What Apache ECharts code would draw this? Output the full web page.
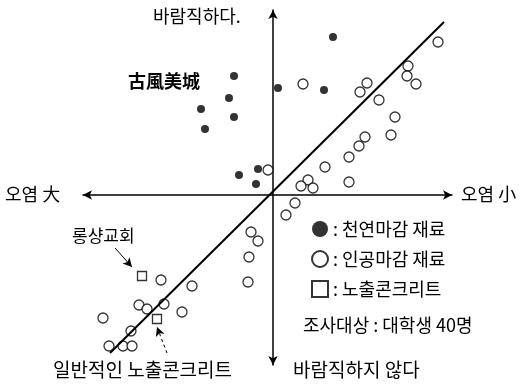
<!DOCTYPE html>
<html>
<head>
<meta charset="utf-8">
<script src="https://cdn.jsdelivr.net/npm/echarts@6/dist/echarts.min.js"></script>
<style>
  html, body { margin: 0; padding: 0; background: #fff; }
  #chart { width: 523px; height: 384px; }
</style>
</head>
<body>
<div id="chart"></div>
<script>
// 천연마감 재료 (filled)
var naturalPts = [
  [-39, 119], [-44, 97], [-72, 86], [-39, 78], [-68, 66],
  [-34, 20], [-15, 26], [-17, 11], [60, 158], [5, 107], [51, 105]
];
// 인공마감 재료 (open)
var artificialPts = [
  [165, 153], [135, 129], [134, 119], [143, 111], [30, 111], [94, 112],
  [87, 103], [106, 95], [122, 78], [118, 60], [92, 58], [86, 49],
  [76, 38], [52, 28], [35, 15], [28, 9], [40, 7], [76, 13], [-5, 25],
  [22, -8], [13, -20], [-22, -37], [-15, -46], [-24, -62], [-25, -87],
  [-112, -85], [-81, -91], [-134, -110], [-126, -114], [-109, -109],
  [-91, -117], [-170, -123], [-142, -136], [-164, -151], [-150, -151], [-141, -151]
];
// 노출콘크리트 (square)
var concretePts = [[-131, -81], [-116, -124]];
// 추세선
var trendLine = [[-163, -158], [171, 173]];
// 주석 화살표
var arrowChurch = [[-158, -53], [-141, -72]];
var arrowNormal = [[-106, -158], [-116, -132]];

var seriesNames = ['천연마감 재료', '인공마감 재료', '노출콘크리트'];
var KR = '"Noto Sans CJK KR", sans-serif';

var chart = echarts.init(document.getElementById('chart'));

var option = {
  animation: false,
  grid: { left: 83, right: 71, top: 10, bottom: 19 },
  xAxis: {
    type: 'value', min: -190, max: 179,
    axisLine: { onZero: true, symbol: ['arrow', 'arrow'], symbolSize: [7, 9], lineStyle: { color: '#000', width: 1.5 } },
    axisTick: { show: false }, axisLabel: { show: false }, splitLine: { show: false }
  },
  yAxis: {
    type: 'value', min: -170, max: 185,
    axisLine: { onZero: true, symbol: ['arrow', 'arrow'], symbolSize: [7, 9], lineStyle: { color: '#000', width: 1.5 } },
    axisTick: { show: false }, axisLabel: { show: false }, splitLine: { show: false }
  },
  legend: {
    orient: 'vertical',
    left: 306, top: 215,
    itemWidth: 16, itemHeight: 16, itemGap: 12,
    data: seriesNames,
    formatter: ': {name}',
    textStyle: { fontFamily: KR, fontSize: 18, color: '#000' }
  },
  series: [
    {
      type: 'line', data: trendLine, symbol: 'none', silent: true,
      lineStyle: { color: '#000', width: 2 },
      markLine: {
        silent: true,
        symbolSize: [7, 9],
        label: { show: false },
        data: [
          [{ coord: arrowChurch[0], symbol: 'none' }, { coord: arrowChurch[1], symbol: 'arrow' }],
          [{ coord: arrowNormal[0], symbol: 'none', lineStyle: { type: [3, 3] } }, { coord: arrowNormal[1], symbol: 'arrow' }]
        ],
        lineStyle: { color: '#000', width: 1, type: 'solid' }
      }
    },
    {
      name: seriesNames[0], type: 'scatter', data: naturalPts,
      symbol: 'circle', symbolSize: 8,
      itemStyle: { color: '#000' }
    },
    {
      name: seriesNames[1], type: 'scatter', data: artificialPts,
      symbol: 'circle', symbolSize: 10,
      itemStyle: { color: '#fff', borderColor: '#000', borderWidth: 1.3 }
    },
    {
      name: seriesNames[2], type: 'scatter', data: concretePts,
      symbol: 'rect', symbolSize: 9,
      itemStyle: { color: '#fff', borderColor: '#000', borderWidth: 1.3 }
    }
  ],
  graphic: [
    { type: 'text', left: 153, top: 7, style: { text: '바람직하다.', font: '18px ' + KR, fill: '#000' } },
    { type: 'text', left: 128, top: 72, style: { text: '古風美城', font: 'bold 18px ' + KR, fill: '#000' } },
    { type: 'text', left: 5, top: 185, style: { text: '오염 大', font: '18px ' + KR, fill: '#000' } },
    { type: 'text', left: 461, top: 185, style: { text: '오염 小', font: '18px ' + KR, fill: '#000' } },
    { type: 'text', left: 72, top: 227, style: { text: '롱샹교회', font: '17px ' + KR, fill: '#000' } },
    { type: 'text', left: 53, top: 360, style: { text: '일반적인 노출콘크리트', font: '19px ' + KR, fill: '#000' } },
    { type: 'text', left: 293, top: 360, style: { text: '바람직하지 않다', font: '19px ' + KR, fill: '#000' } },
    { type: 'text', left: 303, top: 316, style: { text: '조사대상 : 대학생 40명', font: '18px ' + KR, fill: '#000' } }
  ]
};

chart.setOption(option);
</script>
</body>
</html>
